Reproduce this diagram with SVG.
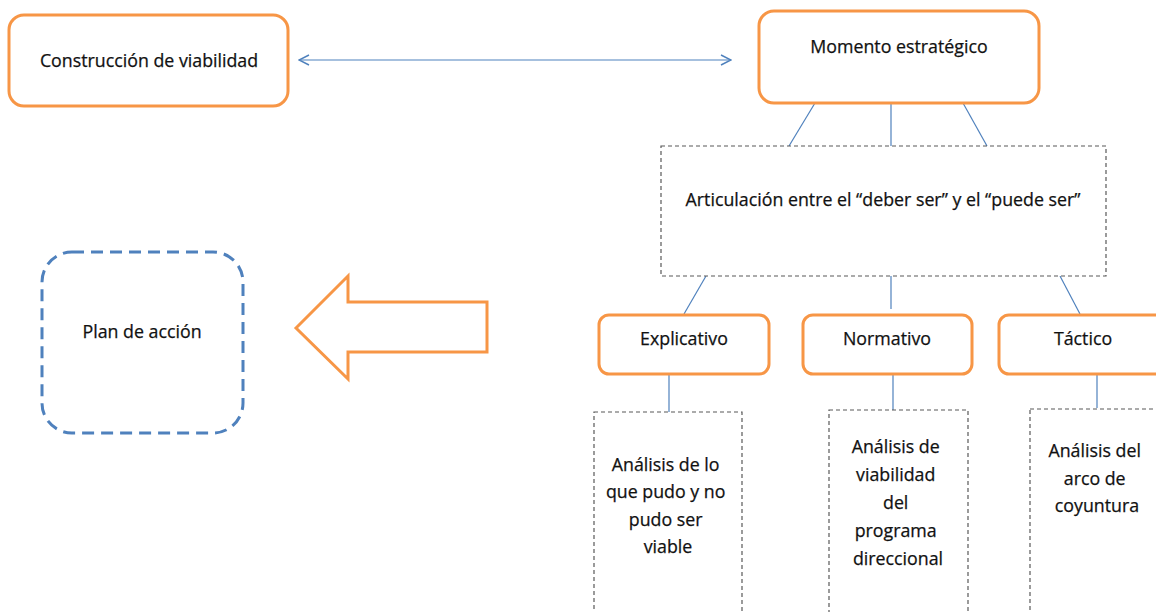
<svg xmlns="http://www.w3.org/2000/svg" width="1156" height="612" viewBox="0 0 1156 612">
  <defs>
    <style>
      .orange { fill: #ffffff; stroke: #F79646; stroke-width: 3; }
      .dashbox { fill: #ffffff; stroke: #595959; stroke-width: 1.2; stroke-dasharray: 4 3; }
      .link { stroke: #4F81BD; stroke-width: 1.2; fill: none; }
      .lbl { font-family: "Open Sans", "Liberation Sans", Arial, sans-serif; font-size: 17.8px; fill: #111111; stroke: #111111; stroke-width: 0.25; text-anchor: middle; }
    </style>
    <marker id="openArrow" viewBox="0 0 12 12" refX="11" refY="6" markerWidth="12" markerHeight="12" markerUnits="userSpaceOnUse" orient="auto-start-reverse">
      <path d="M1,1 L11,6 L1,11" fill="none" stroke="#4F81BD" stroke-width="1.5"/>
    </marker>
  </defs>

  <!-- connectors -->
  <g id="connectors">
    <line class="link" x1="299" y1="60" x2="731" y2="60" marker-start="url(#openArrow)" marker-end="url(#openArrow)"/>
    <line class="link" x1="815" y1="103" x2="789" y2="146"/>
    <line class="link" x1="891" y1="103" x2="891" y2="146"/>
    <line class="link" x1="963" y1="103" x2="987" y2="146"/>
    <line class="link" x1="706" y1="276" x2="684" y2="314"/>
    <line class="link" x1="891" y1="276" x2="891" y2="309"/>
    <line class="link" x1="1060" y1="276" x2="1080" y2="314"/>
    <line class="link" x1="669" y1="374" x2="669" y2="412"/>
    <line class="link" x1="893" y1="374" x2="893" y2="410"/>
    <line class="link" x1="1097" y1="374" x2="1097" y2="408"/>
  </g>

  <g id="construccion">
    <rect class="orange" x="9" y="15" width="279" height="91" rx="15"/>
    <text class="lbl" x="149" y="67">Construcción de viabilidad</text>
  </g>

  <g id="momento">
    <rect class="orange" x="759" y="11" width="280" height="92" rx="15"/>
    <text class="lbl" x="899" y="53">Momento estratégico</text>
  </g>

  <g id="articulacion">
    <rect class="dashbox" x="661" y="146" width="445" height="130"/>
    <text class="lbl" x="883" y="206">Articulación entre el “deber ser” y el “puede ser”</text>
  </g>

  <g id="explicativo">
    <rect class="orange" x="599" y="315" width="170" height="59" rx="10"/>
    <text class="lbl" x="684" y="345">Explicativo</text>
  </g>

  <g id="normativo">
    <rect class="orange" x="803" y="315" width="169" height="59" rx="10"/>
    <text class="lbl" x="887" y="345">Normativo</text>
  </g>

  <g id="tactico">
    <rect class="orange" x="999" y="315" width="170" height="59" rx="10"/>
    <text class="lbl" x="1083" y="345">Táctico</text>
  </g>

  <g id="analisis-explicativo">
    <rect class="dashbox" x="594" y="412" width="148" height="220"/>
    <text class="lbl">
      <tspan x="668" y="471">Análisis de lo</tspan>
      <tspan x="668" y="498">que pudo y no</tspan>
      <tspan x="668" y="526">pudo ser</tspan>
      <tspan x="668" y="553">viable</tspan>
    </text>
  </g>

  <g id="analisis-normativo">
    <rect class="dashbox" x="829" y="410" width="139" height="222"/>
    <text class="lbl">
      <tspan x="898" y="453">Análisis de</tspan>
      <tspan x="898" y="481">viabilidad</tspan>
      <tspan x="898" y="509">del</tspan>
      <tspan x="898" y="537">programa</tspan>
      <tspan x="898" y="565">direccional</tspan>
    </text>
  </g>

  <g id="analisis-tactico">
    <rect class="dashbox" x="1030" y="409" width="140" height="223"/>
    <text class="lbl">
      <tspan x="1097" y="457">Análisis del</tspan>
      <tspan x="1097" y="485">arco de</tspan>
      <tspan x="1097" y="512">coyuntura</tspan>
    </text>
  </g>

  <g id="plan-accion">
    <rect x="42" y="252" width="201" height="181" rx="30" fill="#ffffff" stroke="#4F81BD" stroke-width="3" stroke-dasharray="12 7"/>
    <text class="lbl" x="142" y="338">Plan de acción</text>
  </g>

  <g id="flecha-bloque">
    <polygon points="296,328 348,276 348,302 487,302 487,352 348,352 348,379" fill="#ffffff" stroke="#F79646" stroke-width="3" stroke-linejoin="miter"/>
  </g>
</svg>
